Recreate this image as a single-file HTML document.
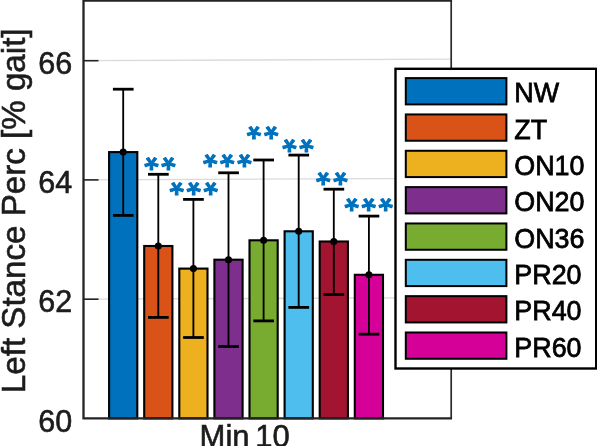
<!DOCTYPE html>
<html><head><meta charset="utf-8"><title>Left Stance Perc</title>
<style>
html,body{margin:0;padding:0;background:#fff;}
body{width:597px;height:446px;overflow:hidden;}
svg{display:block;}
text{font-family:"Liberation Sans",Arial,Helvetica,sans-serif;fill:#1c1c1c;stroke:#1c1c1c;stroke-width:0.6px;}
.lg{fill:#000;stroke:#000;stroke-width:0.75px;}
.star{fill:#0072BD;stroke:#0072BD;stroke-width:1.3px;stroke-linejoin:round;}
</style></head><body>
<svg width="597" height="446" viewBox="0 0 597 446">
<rect x="0" y="0" width="597" height="446" fill="#fff"/>
<line x1="83.5" y1="60.70" x2="451.0" y2="59.20" stroke="#dadada" stroke-width="1.3"/>
<line x1="83.5" y1="179.90" x2="451.0" y2="178.40" stroke="#dadada" stroke-width="1.3"/>
<line x1="83.5" y1="299.20" x2="451.0" y2="297.70" stroke="#dadada" stroke-width="1.3"/>
<rect x="109.10" y="152.10" width="28.2" height="266.30" fill="#0072BD" stroke="#000" stroke-width="2.1"/>
<rect x="144.20" y="246.00" width="28.2" height="172.40" fill="#D95319" stroke="#000" stroke-width="2.1"/>
<rect x="179.30" y="268.60" width="28.2" height="149.80" fill="#EDB120" stroke="#000" stroke-width="2.1"/>
<rect x="214.40" y="259.70" width="28.2" height="158.70" fill="#7E2F8E" stroke="#000" stroke-width="2.1"/>
<rect x="249.50" y="240.30" width="28.2" height="178.10" fill="#77AC30" stroke="#000" stroke-width="2.1"/>
<rect x="284.60" y="231.30" width="28.2" height="187.10" fill="#4DBEEE" stroke="#000" stroke-width="2.1"/>
<rect x="319.70" y="241.50" width="28.2" height="176.90" fill="#A2142F" stroke="#000" stroke-width="2.1"/>
<rect x="354.80" y="274.80" width="28.2" height="143.60" fill="#D50098" stroke="#000" stroke-width="2.1"/>
<path d="M451.2 418.4 L451.2 0.5 " fill="none" stroke="#2a2a2a" stroke-width="1.7"/>
<path d="M452.05 0.5 L83.5 0.5 L83.5 418.4 L452.05 418.4" fill="none" stroke="#242424" stroke-width="2.3" stroke-linejoin="miter"/>
<line x1="83.5" y1="60.699999999999996" x2="98.5" y2="60.699999999999996" stroke="#242424" stroke-width="1.6"/>
<line x1="83.5" y1="179.9" x2="98.5" y2="179.9" stroke="#242424" stroke-width="1.6"/>
<line x1="83.5" y1="299.2" x2="98.5" y2="299.2" stroke="#242424" stroke-width="1.6"/>
<line x1="123.20" y1="89.2" x2="123.20" y2="215.4" stroke="#000" stroke-width="1.85"/>
<line x1="112.90" y1="89.2" x2="133.60" y2="89.2" stroke="#000" stroke-width="2.8"/>
<line x1="112.90" y1="215.4" x2="133.60" y2="215.4" stroke="#000" stroke-width="2.8"/>
<circle cx="123.20" cy="152.1" r="3.55" fill="#000"/>
<line x1="158.30" y1="174.3" x2="158.30" y2="317.4" stroke="#000" stroke-width="1.85"/>
<line x1="148.00" y1="174.3" x2="168.70" y2="174.3" stroke="#000" stroke-width="2.8"/>
<line x1="148.00" y1="317.4" x2="168.70" y2="317.4" stroke="#000" stroke-width="2.8"/>
<circle cx="158.30" cy="246.0" r="3.55" fill="#000"/>
<line x1="193.40" y1="199.4" x2="193.40" y2="337.5" stroke="#000" stroke-width="1.85"/>
<line x1="183.10" y1="199.4" x2="203.80" y2="199.4" stroke="#000" stroke-width="2.8"/>
<line x1="183.10" y1="337.5" x2="203.80" y2="337.5" stroke="#000" stroke-width="2.8"/>
<circle cx="193.40" cy="268.6" r="3.55" fill="#000"/>
<line x1="228.50" y1="172.8" x2="228.50" y2="346.5" stroke="#000" stroke-width="1.85"/>
<line x1="218.20" y1="172.8" x2="238.90" y2="172.8" stroke="#000" stroke-width="2.8"/>
<line x1="218.20" y1="346.5" x2="238.90" y2="346.5" stroke="#000" stroke-width="2.8"/>
<circle cx="228.50" cy="259.7" r="3.55" fill="#000"/>
<line x1="263.60" y1="160.0" x2="263.60" y2="320.9" stroke="#000" stroke-width="1.85"/>
<line x1="253.30" y1="160.0" x2="274.00" y2="160.0" stroke="#000" stroke-width="2.8"/>
<line x1="253.30" y1="320.9" x2="274.00" y2="320.9" stroke="#000" stroke-width="2.8"/>
<circle cx="263.60" cy="240.3" r="3.55" fill="#000"/>
<line x1="298.70" y1="155.1" x2="298.70" y2="307.4" stroke="#000" stroke-width="1.85"/>
<line x1="288.40" y1="155.1" x2="309.10" y2="155.1" stroke="#000" stroke-width="2.8"/>
<line x1="288.40" y1="307.4" x2="309.10" y2="307.4" stroke="#000" stroke-width="2.8"/>
<circle cx="298.70" cy="231.3" r="3.55" fill="#000"/>
<line x1="333.80" y1="189.2" x2="333.80" y2="294.5" stroke="#000" stroke-width="1.85"/>
<line x1="323.50" y1="189.2" x2="344.20" y2="189.2" stroke="#000" stroke-width="2.8"/>
<line x1="323.50" y1="294.5" x2="344.20" y2="294.5" stroke="#000" stroke-width="2.8"/>
<circle cx="333.80" cy="241.5" r="3.55" fill="#000"/>
<line x1="368.90" y1="216.1" x2="368.90" y2="334.2" stroke="#000" stroke-width="1.85"/>
<line x1="358.60" y1="216.1" x2="379.30" y2="216.1" stroke="#000" stroke-width="2.8"/>
<line x1="358.60" y1="334.2" x2="379.30" y2="334.2" stroke="#000" stroke-width="2.8"/>
<circle cx="368.90" cy="274.8" r="3.55" fill="#000"/>
<text class="star" transform="translate(159.9,164.10) rotate(180) scale(1,0.93)" x="1.25" y="19.50" font-size="37.5" letter-spacing="2.5" text-anchor="middle">**</text>
<text class="star" transform="translate(193.7,188.80) rotate(180) scale(1,0.93)" x="1.25" y="19.50" font-size="37.5" letter-spacing="2.5" text-anchor="middle">***</text>
<text class="star" transform="translate(227.3,161.30) rotate(180) scale(1,0.93)" x="1.25" y="19.50" font-size="37.5" letter-spacing="2.5" text-anchor="middle">***</text>
<text class="star" transform="translate(262.6,133.00) rotate(180) scale(1,0.93)" x="1.25" y="19.50" font-size="37.5" letter-spacing="2.5" text-anchor="middle">**</text>
<text class="star" transform="translate(298.0,146.00) rotate(180) scale(1,0.93)" x="1.25" y="19.50" font-size="37.5" letter-spacing="2.5" text-anchor="middle">**</text>
<text class="star" transform="translate(331.8,179.30) rotate(180) scale(1,0.93)" x="1.25" y="19.50" font-size="37.5" letter-spacing="2.5" text-anchor="middle">**</text>
<text class="star" transform="translate(368.7,205.10) rotate(180) scale(1,0.93)" x="1.25" y="19.50" font-size="37.5" letter-spacing="2.5" text-anchor="middle">***</text>
<text x="72.3" y="73.80" font-size="30.5" text-anchor="end">66</text>
<text x="72.3" y="193.00" font-size="30.5" text-anchor="end">64</text>
<text x="72.3" y="312.30" font-size="30.5" text-anchor="end">62</text>
<text x="72.3" y="431.50" font-size="30.5" text-anchor="end">60</text>
<text x="199.6" y="446.5" font-size="31">Min</text>
<text x="255.3" y="446.5" font-size="31">10</text>
<text transform="translate(24.5,210.8) rotate(-90)" font-size="33.15" text-anchor="middle">Left Stance Perc [% gait]</text>
<rect x="395.5" y="68.8" width="200.7" height="299.7" fill="#fff" stroke="#000" stroke-width="2.4"/>
<rect x="405.8" y="78.10" width="100.6" height="26.3" fill="#0072BD" stroke="#000" stroke-width="2"/>
<text class="lg" transform="translate(514.3,102.20) scale(0.985,1)" font-size="27.3">NW</text>
<rect x="405.8" y="114.44" width="100.6" height="26.3" fill="#D95319" stroke="#000" stroke-width="2"/>
<text class="lg" transform="translate(514.3,138.54) scale(0.985,1)" font-size="27.3">ZT</text>
<rect x="405.8" y="150.78" width="100.6" height="26.3" fill="#EDB120" stroke="#000" stroke-width="2"/>
<text class="lg" transform="translate(514.3,174.88) scale(0.985,1)" font-size="27.3">ON10</text>
<rect x="405.8" y="187.12" width="100.6" height="26.3" fill="#7E2F8E" stroke="#000" stroke-width="2"/>
<text class="lg" transform="translate(514.3,211.22) scale(0.985,1)" font-size="27.3">ON20</text>
<rect x="405.8" y="223.46" width="100.6" height="26.3" fill="#77AC30" stroke="#000" stroke-width="2"/>
<text class="lg" transform="translate(514.3,247.56) scale(0.985,1)" font-size="27.3">ON36</text>
<rect x="405.8" y="259.80" width="100.6" height="26.3" fill="#4DBEEE" stroke="#000" stroke-width="2"/>
<text class="lg" transform="translate(514.3,283.90) scale(0.985,1)" font-size="27.3">PR20</text>
<rect x="405.8" y="296.14" width="100.6" height="26.3" fill="#A2142F" stroke="#000" stroke-width="2"/>
<text class="lg" transform="translate(514.3,320.24) scale(0.985,1)" font-size="27.3">PR40</text>
<rect x="405.8" y="332.48" width="100.6" height="26.3" fill="#D50098" stroke="#000" stroke-width="2"/>
<text class="lg" transform="translate(514.3,356.58) scale(0.985,1)" font-size="27.3">PR60</text>
</svg></body></html>
